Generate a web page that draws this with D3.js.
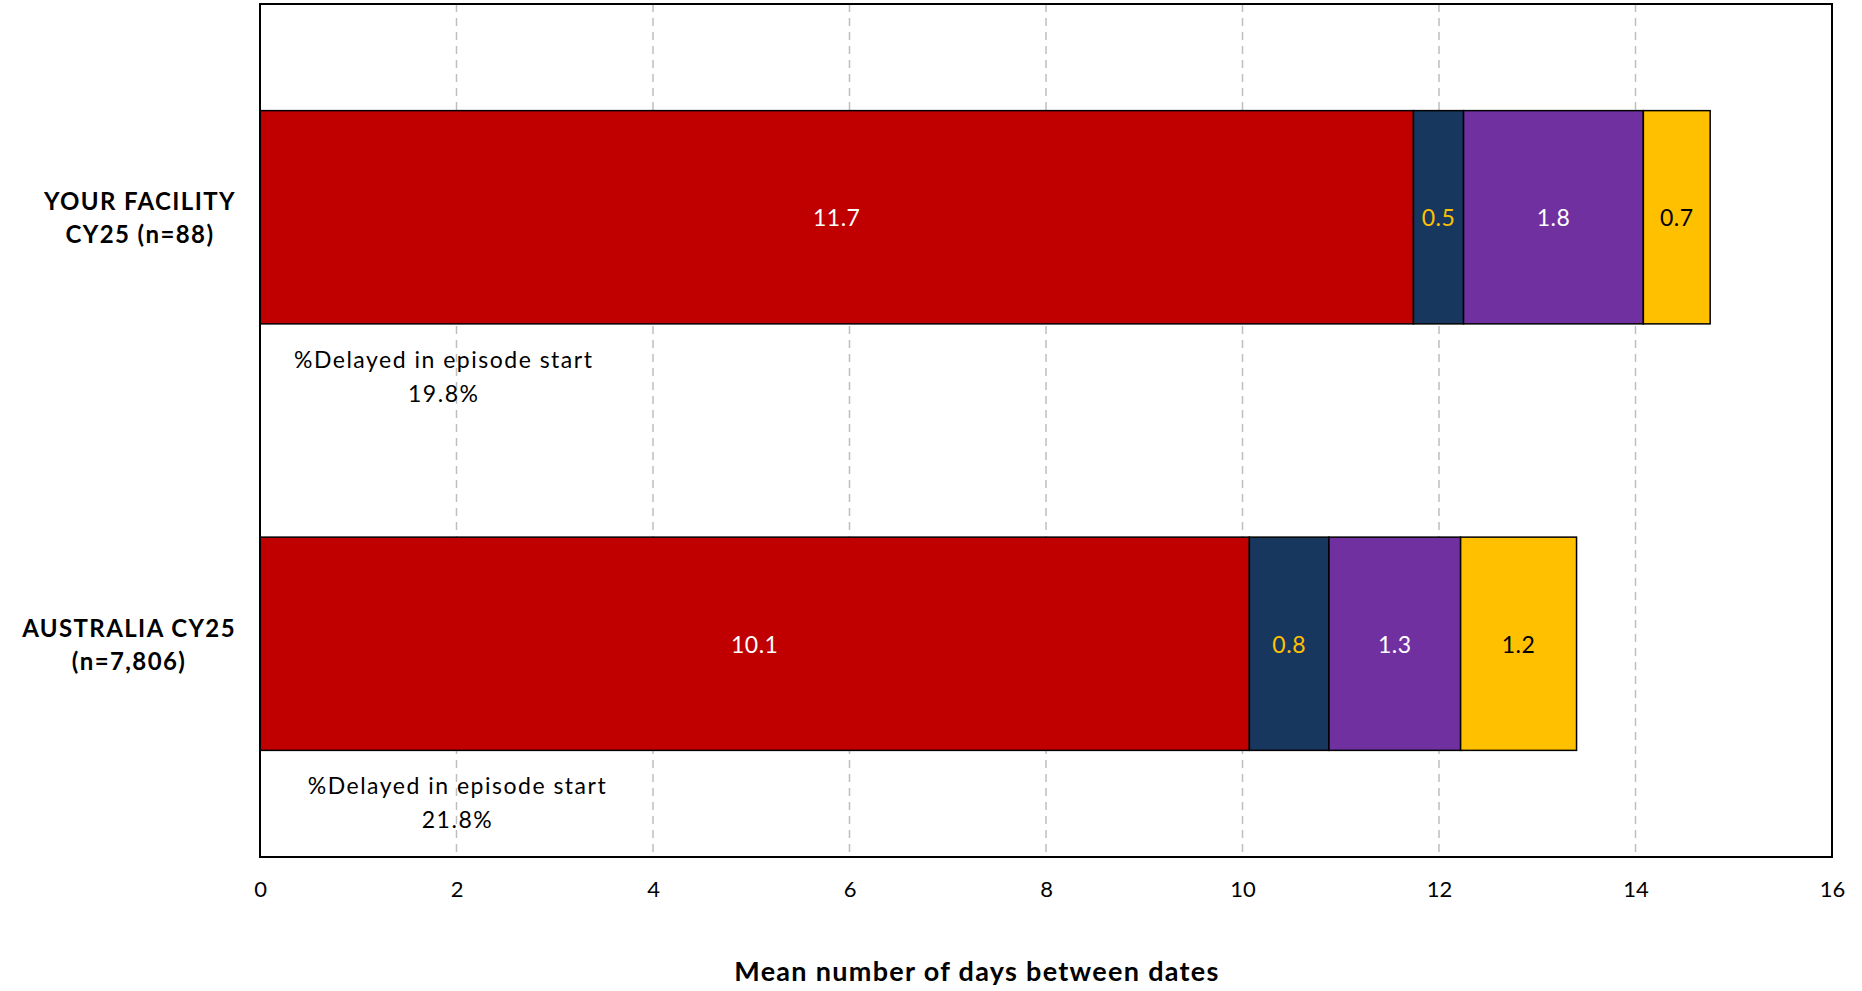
<!DOCTYPE html>
<html>
<head>
<meta charset="utf-8">
<script src="https://cdn.jsdelivr.net/npm/d3@7"></script>
<style>
  html, body { margin: 0; padding: 0; background: #fff; }
  svg { display: block; font-family: "Lato", "Noto Sans", sans-serif; }
</style>
</head>
<body>
<svg id="chart" width="1862" height="991"></svg>
<script>
// ---- Data ----
const categories = ["YOUR FACILITY CY25 (n=88)", "AUSTRALIA CY25 (n=7,806)"];
const categoryLines = [["YOUR FACILITY", "CY25 (n=88)"], ["AUSTRALIA CY25", "(n=7,806)"]];
const seriesNames = ["Segment 1", "Segment 2", "Segment 3", "Segment 4"];
const seg1 = [11.74, 10.07];
const seg2 = [0.51, 0.81];
const seg3 = [1.83, 1.34];
const seg4 = [0.68, 1.18];
const delayedPct = ["19.8%", "21.8%"];
const xTicks = [0, 2, 4, 6, 8, 10, 12, 14, 16];
const xTitle = "Mean number of days between dates";

const seriesColors = ["#C00000", "#17375E", "#7030A0", "#FFC000"];
const labelColors = ["#ffffff", "#FFC000", "#ffffff", "#000000"];

// ---- Layout ----
const svg = d3.select("#chart");
const pLeft = 260, pRight = 1832, pTop = 4, pBottom = 857;

const x = d3.scaleLinear().domain([0, 16]).range([pLeft, pRight]);
const y = d3.scaleBand().domain(categories).range([pTop, pBottom])
  .paddingInner(0.5).paddingOuter(0.25);

// gridlines
svg.append("g").selectAll("line")
  .data(xTicks.filter(t => t > 0 && t < 16))
  .join("line")
  .attr("x1", d => x(d)).attr("x2", d => x(d))
  .attr("y1", pTop).attr("y2", pBottom)
  .attr("stroke", "#bfbfbf").attr("stroke-width", 1.5)
  .attr("stroke-dasharray", "8,6");

// stacked data
const rows = categories.map((c, i) => ({cat: c, vals: [seg1[i], seg2[i], seg3[i], seg4[i]]}));
const stack = d3.stack().keys([0, 1, 2, 3]).value((d, k) => d.vals[k]);
const stacked = stack(rows);

const gBars = svg.append("g");
stacked.forEach((layer, k) => {
  gBars.selectAll(null).data(layer).join("rect")
    .attr("x", d => x(d[0]))
    .attr("y", d => y(d.data.cat))
    .attr("width", d => x(d[1]) - x(d[0]))
    .attr("height", y.bandwidth())
    .attr("fill", seriesColors[k])
    .attr("stroke", "#000").attr("stroke-width", 1.5);
  gBars.selectAll(null).data(layer).join("text")
    .attr("x", d => (x(d[0]) + x(d[1])) / 2)
    .attr("y", d => y(d.data.cat) + y.bandwidth() / 2)
    .attr("text-anchor", "middle").attr("dominant-baseline", "central")
    .attr("fill", labelColors[k])
    .attr("font-size", 23).attr("letter-spacing", 0.5)
    .text(d => d3.format(".1f")(d[1] - d[0]));
});

// frame
svg.append("rect").attr("x", pLeft).attr("y", pTop)
  .attr("width", pRight - pLeft).attr("height", pBottom - pTop)
  .attr("fill", "none").attr("stroke", "#000").attr("stroke-width", 2);

// x axis
const xAxis = d3.axisBottom(x).tickValues(xTicks).tickSize(0).tickPadding(24).tickFormat(d3.format("d"));
const gx = svg.append("g").attr("transform", `translate(0,${pBottom})`).call(xAxis);
gx.select(".domain").remove();
gx.selectAll("text").attr("font-size", 22).attr("fill", "#000").attr("font-family", "Lato, sans-serif");

// x title
svg.append("text").attr("x", 977).attr("y", 970)
  .attr("text-anchor", "middle").attr("dominant-baseline", "central")
  .attr("font-size", 27).attr("font-weight", "bold").attr("letter-spacing", 1.3)
  .text(xTitle);

// category labels
categories.forEach((c, i) => {
  const cy = y(c) + y.bandwidth() / 2;
  const g = svg.append("g");
  const lines = categoryLines[i];
  const texts = lines.map((ln, j) => g.append("text")
    .attr("y", cy + (j - (lines.length - 1) / 2) * 33)
    .attr("dominant-baseline", "central")
    .attr("text-anchor", "middle")
    .attr("font-size", 24).attr("font-weight", "bold").attr("letter-spacing", 1.4)
    .text(ln));
  const maxW = d3.max(texts, t => t.node().getComputedTextLength());
  texts.forEach(t => t.attr("x", 236 - maxW / 2));
});

// delayed annotations
const annX = [2 - 0.13, 2.01];
categories.forEach((c, i) => {
  const yb = y(c) + y.bandwidth();
  const ax = x(annX[i]);
  svg.append("text").attr("x", ax).attr("y", yb + 35)
    .attr("text-anchor", "middle").attr("dominant-baseline", "central")
    .attr("font-size", 23).attr("letter-spacing", 1.5).text("%Delayed in episode start");
  svg.append("text").attr("x", ax).attr("y", yb + 69)
    .attr("text-anchor", "middle").attr("dominant-baseline", "central")
    .attr("font-size", 23).attr("letter-spacing", 1.5).text(delayedPct[i]);
});
</script>
</body>
</html>
